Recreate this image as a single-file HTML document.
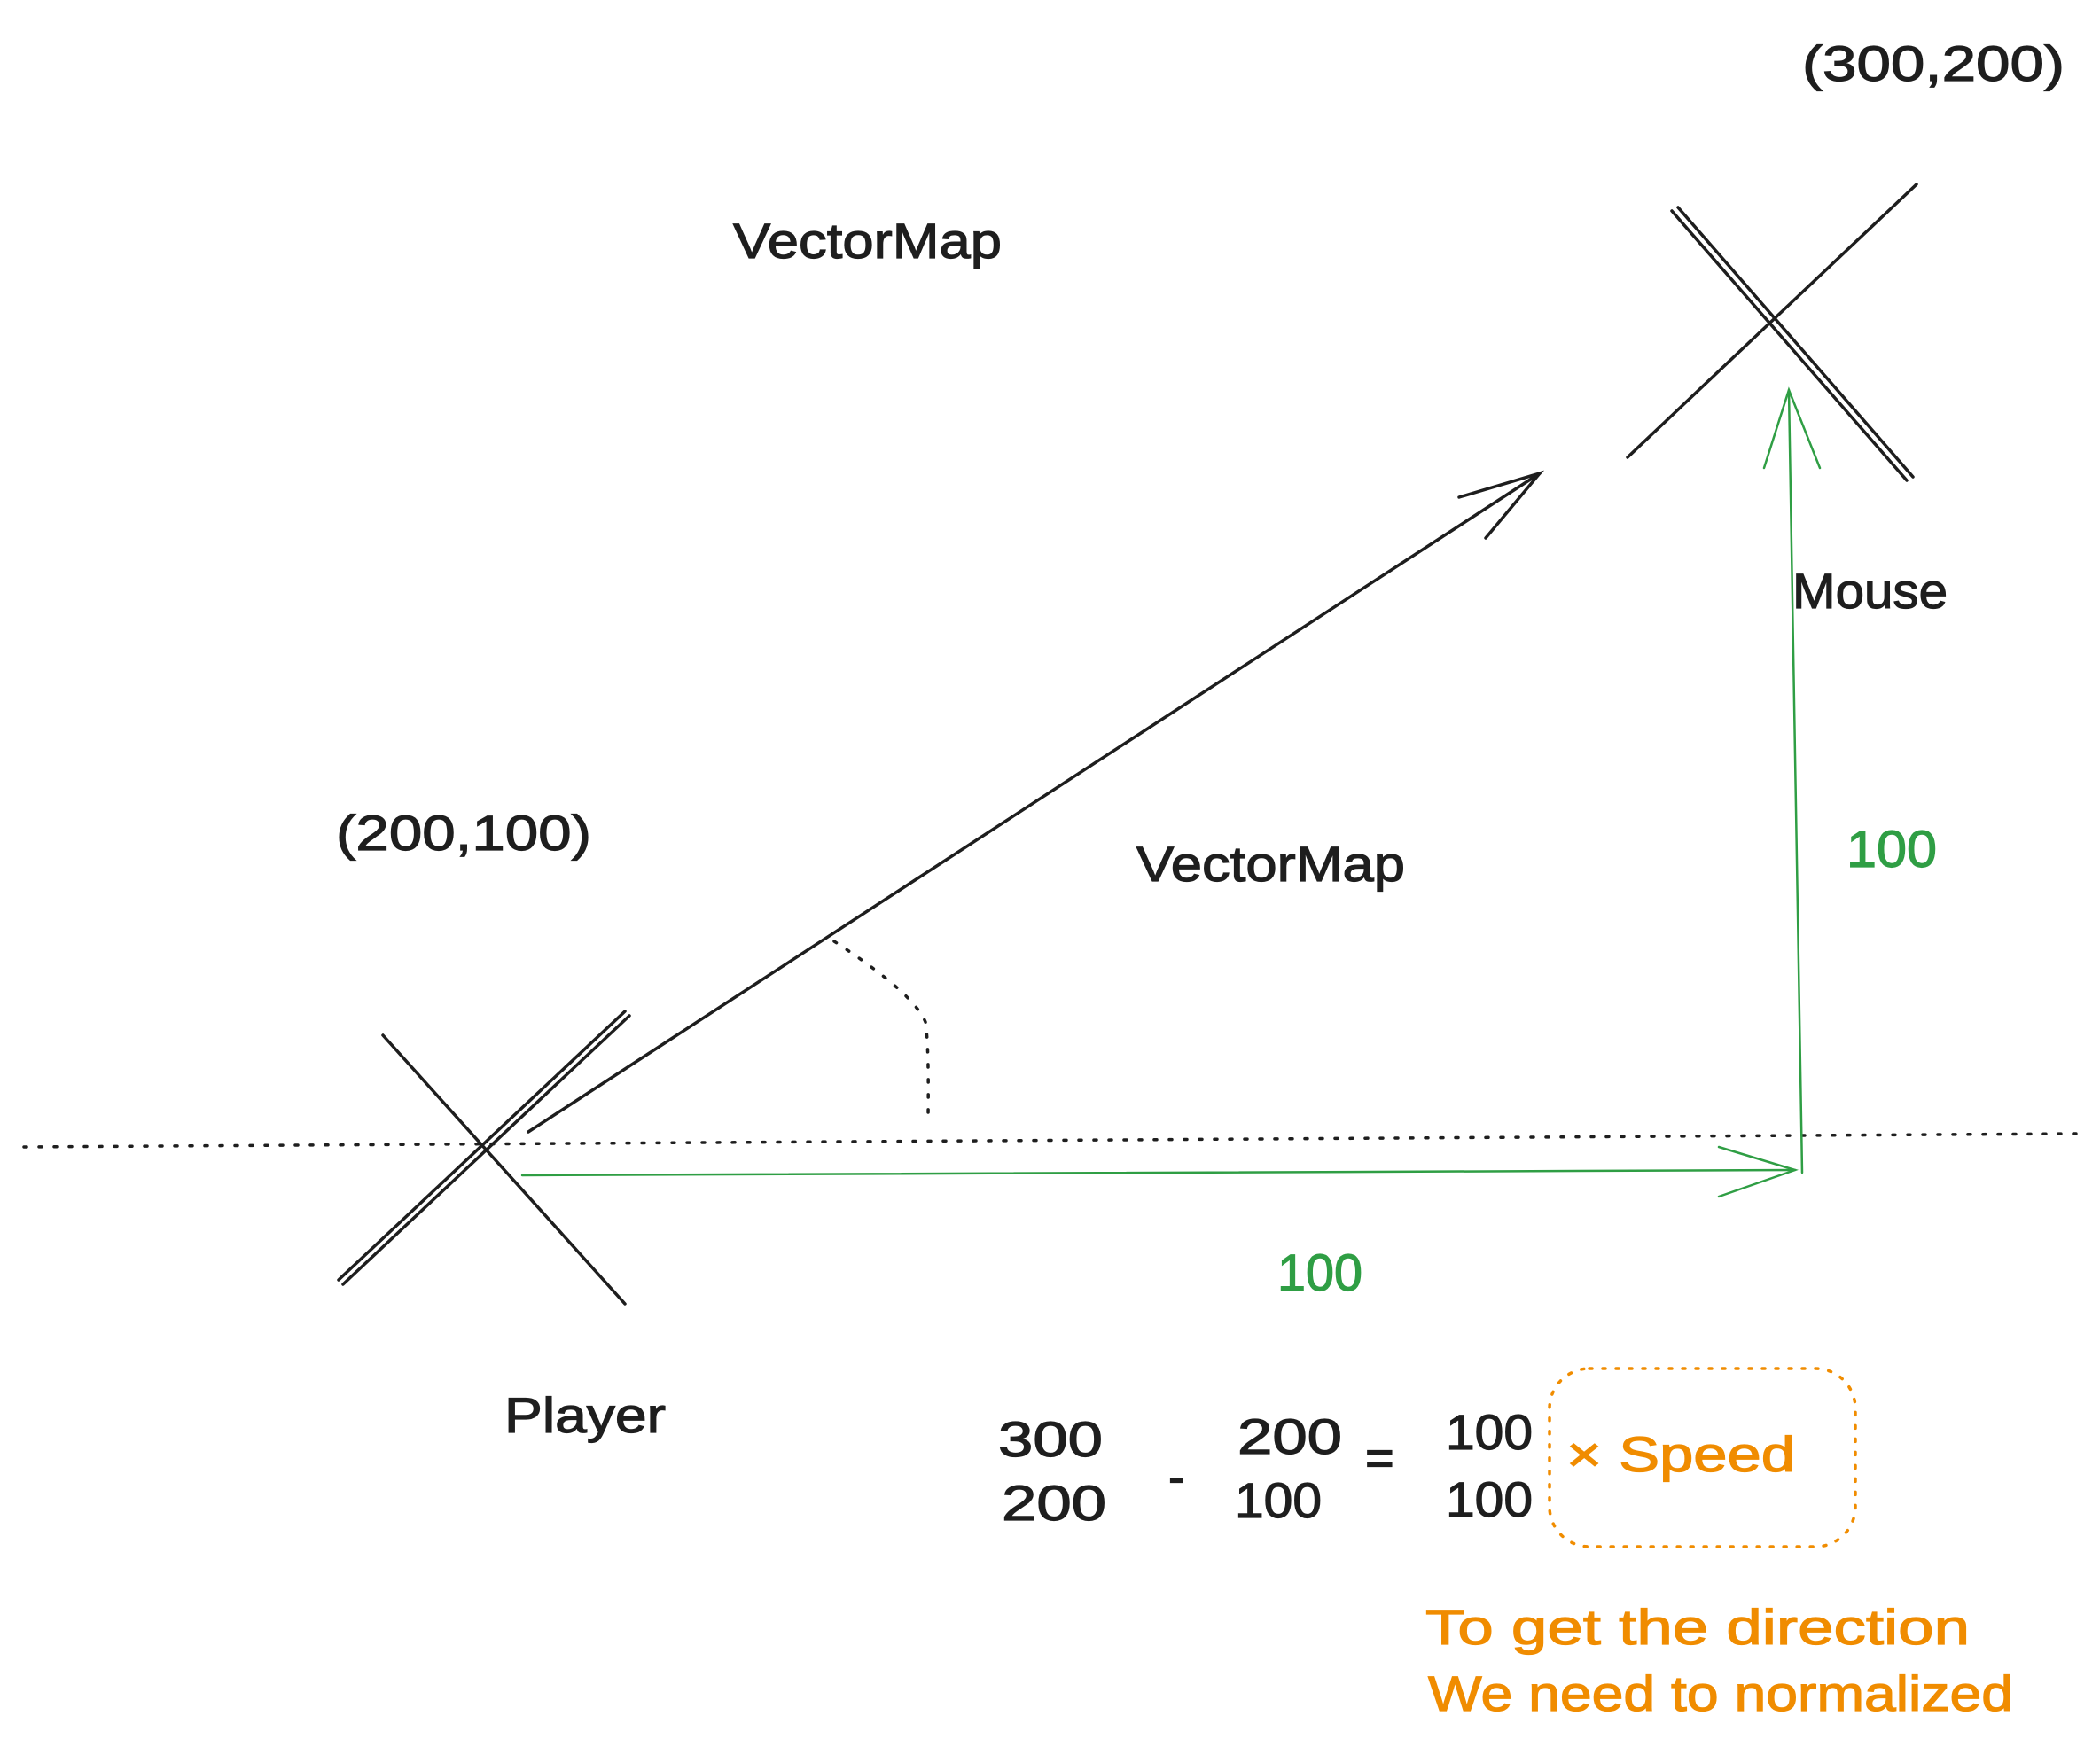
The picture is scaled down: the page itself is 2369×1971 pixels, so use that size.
<!DOCTYPE html>
<html><head><meta charset="utf-8"><style>html,body{margin:0;padding:0;background:#fff}svg{display:block}text{font-family:"Liberation Sans",sans-serif}</style></head>
<body>
<svg width="2369" height="1971" viewBox="0 0 2369 1971" xmlns="http://www.w3.org/2000/svg">
<rect width="2369" height="1971" fill="#fff"/>
<g stroke="#1e1e1e" stroke-width="3.5" fill="none" stroke-linecap="round">
  <g>
    <line x1="1886" y1="238" x2="2151" y2="542"/><line x1="1893" y1="234" x2="2158" y2="538"/>
    <line x1="2162" y1="208" x2="1836" y2="516"/>
  </g>
  <g>
    <line x1="432" y1="1168" x2="705" y2="1471"/>
    <line x1="705" y1="1141" x2="382" y2="1444"/><line x1="710" y1="1146" x2="387" y2="1449"/>
  </g>
  <g>
    <line x1="596" y1="1277" x2="1737" y2="534"/>
    <polyline points="1646,561 1737,534 1676,607"/>
  </g>
  <line x1="27" y1="1294" x2="2344" y2="1279" stroke-dasharray="3,14" stroke-width="3.5"/>
  <path d="M941,1062 Q1030,1120 1044,1153 Q1048,1180 1047,1259" stroke-dasharray="3,14" stroke-width="3.5"/>
</g>
<g stroke="#2f9e44" stroke-width="2.5" fill="none" stroke-linecap="round">
  <g>
    <line x1="589" y1="1326" x2="2025" y2="1320"/>
    <polyline points="1939,1294 2025,1320 1939,1350"/>
  </g>
  <g>
    <line x1="2033" y1="1323" x2="2018" y2="440"/>
    <polyline points="1990,528 2018,440 2053,528"/>
  </g>
</g>
<rect x="1748" y="1544" width="345" height="201" rx="45" fill="none" stroke="#f08c00" stroke-width="3.5" stroke-dasharray="3,12" stroke-linecap="round"/>
<g fill="#1e1e1e" stroke="#1e1e1e" stroke-width="1.2" font-size="56">
  <text x="2033" y="91" textLength="296" lengthAdjust="spacingAndGlyphs">(300,200)</text>
  <text x="827" y="291" textLength="303" lengthAdjust="spacingAndGlyphs">VectorMap</text>
  <text x="2022" y="686" textLength="175" lengthAdjust="spacingAndGlyphs">Mouse</text>
  <text x="379" y="959" textLength="288" lengthAdjust="spacingAndGlyphs">(200,100)</text>
  <text x="1282" y="994" textLength="303" lengthAdjust="spacingAndGlyphs">VectorMap</text>
  <text x="569" y="1616" textLength="182" lengthAdjust="spacingAndGlyphs">Player</text>
  <text x="1126" y="1643" textLength="118" lengthAdjust="spacingAndGlyphs">300</text>
  <text x="1130" y="1715" textLength="118" lengthAdjust="spacingAndGlyphs">200</text>
  <text x="1396" y="1640" textLength="118" lengthAdjust="spacingAndGlyphs">200</text>
  <text x="1393" y="1712" textLength="98" lengthAdjust="spacingAndGlyphs">100</text>
  <text x="1318" y="1685">-</text>
  <text x="1540" y="1664">=</text>
  <text x="1631" y="1635" textLength="98" lengthAdjust="spacingAndGlyphs">100</text>
  <text x="1631" y="1711" textLength="98" lengthAdjust="spacingAndGlyphs">100</text>
</g>
<g fill="#2f9e44" stroke="#2f9e44" stroke-width="1.2" font-size="58">
  <text x="2083" y="978" textLength="102" lengthAdjust="spacingAndGlyphs">100</text>
  <text x="1441" y="1456" textLength="96" lengthAdjust="spacingAndGlyphs">100</text>
</g>
<g fill="#f08c00" stroke="#f08c00" stroke-width="1.2" font-size="56">
  <text x="1767" y="1660" textLength="258" lengthAdjust="spacingAndGlyphs">×  Speed</text>
  <text x="1608" y="1855" textLength="614" lengthAdjust="spacingAndGlyphs">To get the direction</text>
  <text x="1611" y="1930" textLength="660" lengthAdjust="spacingAndGlyphs">We need to normalized</text>
</g>
</svg>
</body></html>
